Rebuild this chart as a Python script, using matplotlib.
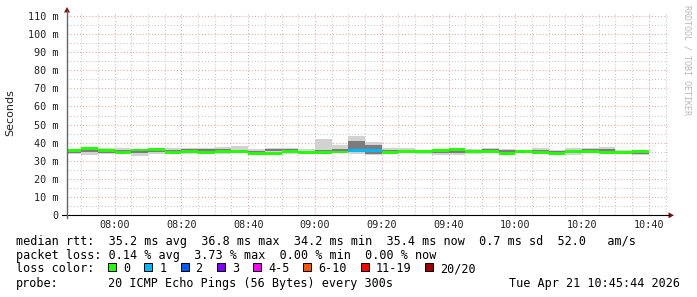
import matplotlib
matplotlib.use('Agg')
import matplotlib.pyplot as plt
import pandas as pd
import numpy as np
from matplotlib.patches import Rectangle, Polygon
from matplotlib.lines import Line2D

# ---------------- data ----------------
bin_starts = pd.date_range('2026-04-21 07:45', periods=35, freq='5min')
median_ms = [35.9, 36.6, 35.6, 34.5, 36.0, 36.3, 34.5, 35.2, 34.5, 35.2,
             35.3, 34.2, 34.3, 35.0, 34.8, 34.8, 34.9, 35.6, 35.6, 34.6,
             35.0, 35.3, 35.6, 36.2, 35.0, 35.1, 34.2, 35.0, 34.5, 34.2,
             35.0, 35.4, 34.4, 34.4, 35.4]
smoke_lo = [33.6, 33.1, 33.8, 33.9, 32.9, 34.0, 34.4, 33.8, 33.6, 33.8,
            34.4, 33.7, 34.0, 34.0, 34.0, 34.0, 34.2, 33.8, 33.5, 34.0,
            34.3, 33.9, 33.3, 33.1, 34.0, 34.3, 33.8, 34.5, 34.0, 33.8,
            33.5, 34.2, 33.8, 33.8, 33.2]
smoke_hi = [36.6, 36.2, 37.2, 37.0, 36.3, 36.6, 37.3, 37.0, 37.2, 37.4,
            38.3, 36.8, 37.3, 37.2, 36.5, 41.8, 38.6, 43.6, 40.3, 37.0,
            37.0, 36.0, 36.5, 36.8, 36.8, 37.0, 36.7, 36.2, 37.0, 36.0,
            37.0, 37.0, 37.5, 36.0, 36.2]
core_lo = [34.4, 34.8, 34.6, 34.8, 34.4, 35.0, 35.0, 34.4, 35.2, 34.4,
           35.0, 34.6, 35.2, 35.4, 34.4, 35.0, 35.0, 36.5, 33.6, 35.0,
           35.0, 34.6, 34.5, 34.6, 35.4, 35.2, 34.8, 34.8, 34.2, 34.8,
           34.6, 35.4, 34.8, 34.6, 33.6]
core_hi = [35.4, 35.8, 35.4, 36.2, 35.4, 35.8, 35.8, 36.6, 36.8, 36.8,
           35.8, 35.6, 36.8, 36.6, 35.4, 36.0, 36.6, 41.0, 39.0, 36.0,
           36.2, 35.6, 35.4, 35.6, 36.2, 36.4, 35.8, 35.4, 36.2, 35.6,
           35.6, 36.6, 36.8, 35.4, 35.0]
loss_count = [0] * 17 + [1, 1] + [0] * 16

loss_colors = ['#26ff00', '#00b8ff', '#0059ff', '#7e00ff', '#ff00ff',
               '#ff5500', '#ff0000', '#a00000']
loss_labels = ['0', '1', '2', '3', '4-5', '6-10', '11-19', '20/20']

y_ticks = [0, 10, 20, 30, 40, 50, 60, 70, 80, 90, 100, 110]
y_tick_labels = ['0', '10 m', '20 m', '30 m', '40 m', '50 m', '60 m',
                 '70 m', '80 m', '90 m', '100 m', '110 m']
x_tick_labels = ['08:00', '08:20', '08:40', '09:00', '09:20', '09:40',
                 '10:00', '10:20', '10:40']

stats_line1 = ('median rtt:  35.2 ms avg  36.8 ms max  34.2 ms min  '
               '35.4 ms now  0.7 ms sd  52.0   am/s')
stats_line2 = 'packet loss: 0.14 % avg  3.73 % max  0.00 % min  0.00 % now'
probe_text = '20 ICMP Echo Pings (56 Bytes) every 300s'
date_text = 'Tue Apr 21 10:45:44 2026'

# ---------------- figure ----------------
W, H = 697, 297
fig = plt.figure(figsize=(W / 100, H / 100), dpi=100)
fig.patch.set_facecolor('white')


def P(x, y):
    return (x / W, 1 - y / H)


ax_left, ax_right, ax_bottom, ax_top = 67, 668, 215.3, 13
ax = fig.add_axes([ax_left / W, (H - ax_bottom) / H,
                   (ax_right - ax_left) / W, (ax_bottom - ax_top) / H])
ax.set_facecolor('white')

mins = np.array(bin_starts.hour * 60 + bin_starts.minute, dtype=float)
med = np.array(median_ms)
lo = np.array(smoke_lo)
hi = np.array(smoke_hi)
clo = np.array(core_lo)
chi = np.array(core_hi)
band = 0.8

ax.bar(mins, hi - lo, bottom=lo, width=5, align='edge', color='#d2d2d2',
       linewidth=0, zorder=3)
ax.bar(mins, chi - clo, bottom=clo, width=5, align='edge', color='#7c7c7c',
       linewidth=0, zorder=4)
band_colors = [loss_colors[c] for c in loss_count]
ax.bar(mins, np.full_like(med, 2 * band), bottom=med - band, width=5,
       align='edge', color=band_colors, linewidth=0, zorder=5)

start = 7 * 60 + 45 + 44 / 60
ax.set_xlim(start, start + 180)
ax.set_ylim(0, 111.5)

major_x = np.arange(480, 645, 20)
minor_x = np.arange(470, 646, 5)
ax.set_xticks(major_x)
ax.set_xticklabels(x_tick_labels)
ax.set_xticks(minor_x, minor=True)
ax.set_yticks(y_ticks)
ax.set_yticklabels(y_tick_labels)
ax.set_yticks(np.arange(5, 111, 5), minor=True)

ax.grid(which='major', color='#e9a3a3', linewidth=0.75,
        linestyle=(0, (1, 2)), zorder=1)
ax.grid(which='minor', color='#c8c8c8', linewidth=0.75,
        linestyle=(0, (1, 2)), zorder=1)
ax.set_axisbelow(True)

for s in ax.spines.values():
    s.set_visible(False)
ax.tick_params(which='both', length=0)
ax.tick_params(axis='y', pad=5.8, labelsize=7.3, labelcolor='#222222')
ax.tick_params(axis='x', pad=3.6, labelsize=7.3, labelcolor='#222222')
for lab in ax.get_xticklabels() + ax.get_yticklabels():
    lab.set_family('DejaVu Sans Mono')

# axis lines and arrows
fig.add_artist(Line2D([P(62, 0)[0], P(669, 0)[0]],
                      [P(0, 215.3)[1], P(0, 215.3)[1]],
                      color='black', linewidth=0.8))
fig.add_artist(Line2D([P(67, 0)[0], P(67, 0)[0]],
                      [P(0, 218)[1], P(0, 11)[1]],
                      color='#666666', linewidth=1.0))
fig.add_artist(Polygon([P(64, 12.5), P(70, 12.5), P(67, 7)],
                       closed=True, color='#7f1010', linewidth=0))
fig.add_artist(Polygon([P(668.5, 212.3), P(668.5, 218.3), P(674, 215.3)],
                       closed=True, color='#7f1010', linewidth=0))

# y label and watermark
fig.text(*P(10, 113), 'Seconds', rotation=90, ha='center', va='center',
         fontsize=8, family='DejaVu Sans', color='#222222')
fig.text(*P(687, 60), 'RRDTOOL / TOBI OETIKER', rotation=270,
         ha='center', va='center', fontsize=6, family='DejaVu Sans Mono',
         color='#b8b8b8')

# legend
mono = dict(family='DejaVu Sans Mono', fontsize=8.5, color='black',
            va='center', ha='left')
cw = 7.08
x0 = 16
fig.text(*P(x0, 241.5), stats_line1, **mono)
fig.text(*P(x0, 255.5), stats_line2, **mono)
fig.text(*P(x0, 269), 'loss color:', **mono)
bx = x0 + 13 * cw
for col, lab in zip(loss_colors, loss_labels):
    x_a, y_a = P(bx, 270.5)
    fig.add_artist(Rectangle((x_a, y_a), 8 / W, 8 / H,
                             facecolor=col, edgecolor='black',
                             linewidth=0.7))
    fig.text(*P(bx + 15, 269), lab, **mono)
    bx = bx + 15 + len(lab) * cw + 2 * cw
fig.text(*P(x0, 283), 'probe:', **mono)
fig.text(*P(x0 + 13 * cw, 283), probe_text, **mono)
d = dict(mono)
d['ha'] = 'right'
fig.text(*P(680, 283), date_text, **d)

fig.savefig('out.png', dpi=100, facecolor='white')
